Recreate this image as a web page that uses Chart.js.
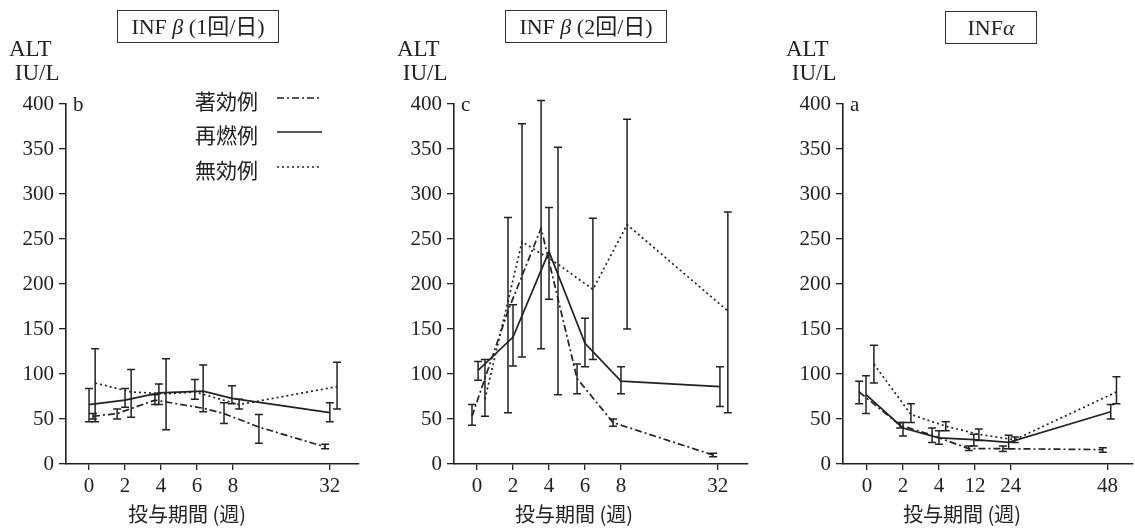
<!DOCTYPE html>
<html>
<head>
<meta charset="utf-8">
<script src="https://cdn.jsdelivr.net/npm/chart.js@4.4.1/dist/chart.umd.min.js"></script>
<style>
  body { margin: 0; background: #fff; }
  #wrap { position: relative; width: 1135px; height: 529px; background: #fff; overflow: hidden; }
  .pane { position: absolute; top: 0; }
  .box { position: absolute; border: 1px solid #333; font: 22px "Liberation Serif", "Noto Sans CJK JP", serif;
         color: #222; text-align: center; line-height: 31px; height: 31px; }
  .unit { position: absolute; font: 23px "Liberation Serif", serif; color: #222; line-height: 24px; }
  .xt { position: absolute; top: 501px; width: 160px; text-align: center; color: #222;
        font: 20px "Noto Sans CJK JP", sans-serif; line-height: 26px; }
</style>
</head>
<body>
<div id="wrap">
  <canvas id="c1" class="pane" width="375" height="529" style="left:0px"></canvas>
  <canvas id="c2" class="pane" width="378" height="529" style="left:378px"></canvas>
  <canvas id="c3" class="pane" width="378" height="529" style="left:757px"></canvas>

  <div class="box" style="left:117px;top:10px;width:160px">INF <i>β</i> (1回/日)</div>
  <div class="box" style="left:505px;top:10px;width:160px">INF <i>β</i> (2回/日)</div>
  <div class="box" style="left:945px;top:11px;width:90px">INF<i>α</i></div>

  <div class="unit" style="left:9px;top:37px">ALT<br>&nbsp;IU/L</div>
  <div class="unit" style="left:397px;top:37px">ALT<br>&nbsp;IU/L</div>
  <div class="unit" style="left:786px;top:37px">ALT<br>&nbsp;IU/L</div>

  <div class="xt" id="xt1" style="left:107px"></div>
  <div class="xt" id="xt2" style="left:494px"></div>
  <div class="xt" id="xt3" style="left:882px"></div>
</div>
<script>
// legend / series names
const seriesNames = ['著効例', '再燃例', '無効例'];
const axisTitle = '投与期間 (週)';

// x tick labels and where they sit on the (broken) week axis
const tickLabelsB = ['0', '2', '4', '6', '8', '32'];
const tickLabelsC = ['0', '2', '4', '6', '8', '32'];
const tickLabelsA = ['0', '2', '4', '12', '24', '48'];
const tickPos = [0, 1, 2, 3, 4, 6.69];

// panel b : INF beta once a day
const bEffX = [0.11, 0.78, 1.83, 3.17, 3.75, 4.72, 6.56];
const bEffY = [53, 56, 71, 62, 56, 41, 19];
const bEffLo = [50, 50, 66, null, 45, 23, 17];
const bEffHi = [56, 61, 77, null, 68, 55, 22];

const bRelX = [0, 1.0, 1.94, 3.17, 3.97, 6.69];
const bRelY = [66, 71, 79, 81, 73, 57];
const bRelLo = [47, 63, 66, 58, 67, 47];
const bRelHi = [84, 84, 89, 110, 87, 68];

const bNonX = [0.17, 1.17, 2.14, 2.94, 4.17, 6.89];
const bNonY = [90, 80, 78, 80, 66, 86];
const bNonLo = [47, 52, 38, 72, 61, 61];
const bNonHi = [128, 105, 117, 94, 72, 113];

// panel c : INF beta twice a day
const cEffX = [-0.14, 0.86, 1.78, 2.78, 3.78, 6.56];
const cEffY = [53, 170, 262, 95, 46, 10];
const cEffLo = [43, 57, 128, 78, 42, 8];
const cEffHi = [66, 274, 404, 111, 50, 12];

const cRelX = [0.03, 1.0, 2.0, 3.0, 4.0, 6.75];
const cRelY = [104, 141, 236, 134, 92, 86];
const cRelLo = [93, 109, 183, 108, 78, 64];
const cRelHi = [114, 177, 285, 162, 108, 108];

const cNonX = [0.22, 1.25, 2.25, 3.22, 4.17, 6.97];
const cNonY = [72, 247, 222, 194, 266, 170];
const cNonLo = [53, 119, 77, 116, 150, 57];
const cNonHi = [116, 378, 352, 273, 383, 280];

// panel a : INF alpha
const aEffX = [-0.22, 0.92, 1.81, 2.83, 3.78, 6.56];
const aEffY = [80, 43, 32, 17, 17, 16];
const aEffLo = [67, 40, 24, 15, 14, 13];
const aEffHi = [92, 46, 40, 20, 20, 18];

const aRelX = [-0.03, 1.0, 2.0, 2.97, 3.94, 6.78];
const aRelY = [77, 40, 29, 27, 24, 58];
const aRelLo = [56, 31, 22, 20, 17, 50];
const aRelHi = [98, 46, 37, 33, 32, 66];

const aNonX = [0.19, 1.22, 2.19, 3.11, 4.11, 6.94];
const aNonY = [111, 55, 42, 33, 27, 80];
const aNonLo = [90, 46, 37, 26, 24, 67];
const aNonHi = [132, 67, 47, 39, 30, 97];

const INK = '#222';
const dashes = [[7, 3, 2, 3], [], [2, 3]];

Chart.defaults.font.family = '"Liberation Serif", "Noto Sans CJK JP", serif';
Chart.defaults.font.size = 21;
Chart.defaults.color = INK;

['xt1', 'xt2', 'xt3'].forEach(id => { document.getElementById(id).textContent = axisTitle; });

function points(xs, ys, lo, hi) {
    return xs.map((v, i) => ({ x: v, y: ys[i], lo: lo[i], hi: hi[i] }));
}

function makeSets(list) {
    return list.map((d, i) => ({
        label: seriesNames[i],
        data: d,
        showLine: true,
        borderColor: INK,
        borderWidth: 1.7,
        borderDash: dashes[i],
        pointRadius: 0,
        fill: false,
        tension: 0
    }));
}

// vertical error bars with caps, drawn from the scales
const errorBars = {
    id: 'errorBars',
    afterDatasetsDraw(chart) {
        const { ctx } = chart;
        const x = chart.scales.x, y = chart.scales.y;
        ctx.save();
        ctx.strokeStyle = INK;
        ctx.lineWidth = 1.5;
        ctx.setLineDash([]);
        chart.data.datasets.forEach(ds => {
            ds.data.forEach(p => {
                if (p.lo == null) return;
                const px = x.getPixelForValue(p.x);
                const yl = y.getPixelForValue(p.lo);
                const yh = y.getPixelForValue(p.hi);
                ctx.beginPath();
                ctx.moveTo(px, yl); ctx.lineTo(px, yh);
                ctx.moveTo(px - 4, yl); ctx.lineTo(px + 4, yl);
                ctx.moveTo(px - 4, yh); ctx.lineTo(px + 4, yh);
                ctx.stroke();
            });
        });
        ctx.restore();
    }
};

function tagPlugin(letter) {
    return {
        id: 'tag',
        afterDraw(chart) {
            const { ctx, chartArea } = chart;
            ctx.save();
            ctx.font = '21px "Liberation Serif", serif';
            ctx.fillStyle = INK;
            ctx.textBaseline = 'middle';
            ctx.fillText(letter, chartArea.left + 7, chartArea.top + 1);
            ctx.restore();
        }
    };
}

// legend inside panel b
const inLegend = {
    id: 'inLegend',
    afterDraw(chart) {
        const { ctx } = chart;
        const rowsY = [101, 135, 170];
        ctx.save();
        ctx.font = '21px "Noto Sans CJK JP", sans-serif';
        ctx.fillStyle = INK;
        ctx.strokeStyle = INK;
        ctx.lineWidth = 1.6;
        ctx.textBaseline = 'middle';
        chart.data.datasets.forEach((ds, i) => {
            ctx.fillText(ds.label, 195, rowsY[i]);
            ctx.beginPath();
            ctx.setLineDash(ds.borderDash);
            ctx.moveTo(277, rowsY[i] - 3);
            ctx.lineTo(322, rowsY[i] - 3);
            ctx.stroke();
        });
        ctx.restore();
    }
};

function makeChart(id, sets, labels, yWidth, padRight, xMin, xMax, plugins) {
    return new Chart(document.getElementById(id), {
        type: 'scatter',
        data: { datasets: makeSets(sets) },
        options: {
            responsive: false,
            animation: false,
            layout: { padding: { top: 104, right: padRight, left: 0, bottom: 0 } },
            plugins: { legend: { display: false }, tooltip: { enabled: false } },
            scales: {
                x: {
                    type: 'linear',
                    min: xMin,
                    max: xMax,
                    afterBuildTicks: s => { s.ticks = tickPos.map(v => ({ value: v })); },
                    afterFit: s => { s.height = 65; },
                    ticks: {
                        autoSkip: false,
                        maxRotation: 0,
                        padding: 4,
                        callback: (v, i) => labels[i]
                    },
                    grid: { drawOnChartArea: false, color: INK, tickLength: 6, lineWidth: 1.3 },
                    border: { color: INK, width: 1.6 }
                },
                y: {
                    min: 0,
                    max: 400,
                    afterFit: s => { s.width = yWidth; },
                    ticks: {
                        stepSize: 25,
                        padding: 5,
                        callback: v => (v % 50 === 0 ? v : '')
                    },
                    grid: { drawOnChartArea: false, color: INK, tickLength: 7, lineWidth: 1.3 },
                    border: { color: INK, width: 1.6 }
                }
            }
        },
        plugins: [errorBars].concat(plugins)
    });
}

makeChart('c1', [
    points(bEffX, bEffY, bEffLo, bEffHi),
    points(bRelX, bRelY, bRelLo, bRelHi),
    points(bNonX, bNonY, bNonLo, bNonHi)
], tickLabelsB, 66, 16, -0.64, 7.5, [tagPlugin('b'), inLegend]);

makeChart('c2', [
    points(cEffX, cEffY, cEffLo, cEffHi),
    points(cRelX, cRelY, cRelLo, cRelHi),
    points(cNonX, cNonY, cNonLo, cNonHi)
], tickLabelsC, 76, 8, -0.64, 7.53, [tagPlugin('c')]);

makeChart('c3', [
    points(aEffX, aEffY, aEffLo, aEffHi),
    points(aRelX, aRelY, aRelLo, aRelHi),
    points(aNonX, aNonY, aNonLo, aNonHi)
], tickLabelsA, 86, 2, -0.67, 7.4, [tagPlugin('a')]);
</script>
</body>
</html>
